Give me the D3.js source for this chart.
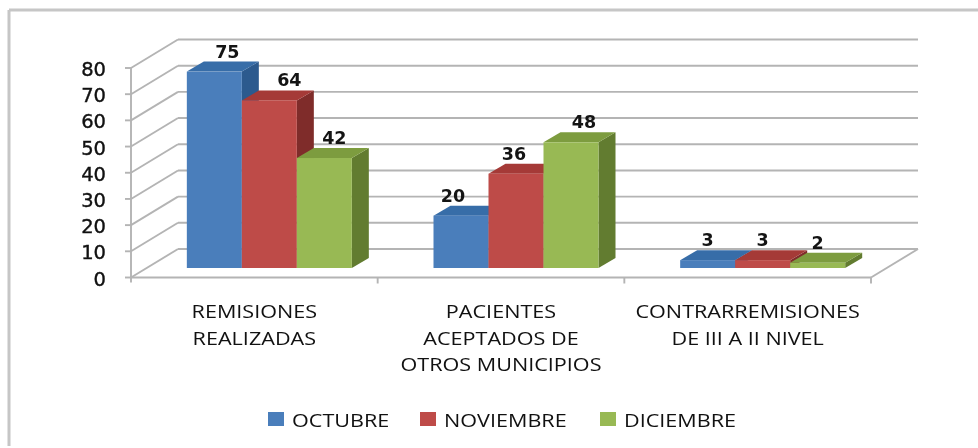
<!DOCTYPE html>
<html><head><meta charset="utf-8">
<script src="https://cdn.jsdelivr.net/npm/d3@7/dist/d3.min.js"></script>
<style>html,body{margin:0;padding:0;background:#fff;width:978px;height:448px;overflow:hidden}
svg{display:block;filter:blur(0.6px)}</style></head><body><svg id="c" width="978" height="448"></svg>
<script>
const categories=[["REMISIONES","REALIZADAS"],["PACIENTES","ACEPTADOS DE","OTROS MUNICIPIOS"],["CONTRARREMISIONES","DE III A II NIVEL"]];
const seriesNames=["OCTUBRE","NOVIEMBRE","DICIEMBRE"];
const octubre=[75,20,3];
const noviembre=[64,36,3];
const diciembre=[42,48,2];
const valueTicks=[0,10,20,30,40,50,60,70,80];
const frontColors=["#4a7ebb","#be4b48","#98b954"];
const topColors=["#376da8","#a53a37","#7d9c3f"];
const sideColors=["#2c5a8e","#7f2c2a","#627c30"];
const seriesValues=[octubre,noviembre,diciembre];
const labelNudge=[[13,-8,0],[20,-2,0],[10,13,0]];

const svg=d3.select("#c");
const y=d3.scaleLinear().domain([0,80]).range([277.5,68]);
const x0=d3.scaleBand().domain(d3.range(categories.length)).range([131,871]);
const x1=d3.scaleBand().domain(d3.range(seriesNames.length)).range([0,165]);
const wallDx=47,wallDy=-28.5,barOffX=15,barOffY=-9.5,barDepX=17,barDepY=-10;
const grid="#b4b4b4",stretch=1.2;

function wide(x,yy,t,anchor,size){
  return svg.append("text").attr("transform",`translate(${x},${yy}) scale(${stretch},1)`)
    .attr("text-anchor",anchor).attr("font-family","Open Sans").attr("font-size",size)
    .attr("font-weight",500).attr("fill","#111").text(t);
}

// chart frame: only the top and left edges show
const frame=svg.append("g").attr("stroke","#c6c6c6").attr("stroke-width",3).attr("fill","none");
frame.append("line").attr("x1",9).attr("x2",978).attr("y1",10).attr("y2",10);
frame.append("line").attr("x1",9).attr("x2",9).attr("y1",10).attr("y2",446);

// back wall gridlines and left wall diagonals
const gl=svg.append("g").attr("stroke",grid).attr("stroke-width",1.9).attr("fill","none");
valueTicks.forEach(v=>{
  gl.append("line").attr("x1",x0.range()[0]+wallDx).attr("x2",x0.range()[1]+wallDx)
    .attr("y1",y(v)+wallDy).attr("y2",y(v)+wallDy);
  gl.append("line").attr("x1",x0.range()[0]).attr("x2",x0.range()[0]+wallDx)
    .attr("y1",y(v)).attr("y2",y(v)+wallDy);
  gl.append("line").attr("x1",x0.range()[0]-6).attr("x2",x0.range()[0])
    .attr("y1",y(v)).attr("y2",y(v));
});
gl.append("line").attr("x1",131).attr("x2",131).attr("y1",y(80)).attr("y2",y(0)+5);
gl.append("line").attr("x1",131).attr("x2",871).attr("y1",y(0)).attr("y2",y(0));
gl.append("line").attr("x1",871).attr("x2",871+wallDx).attr("y1",y(0)).attr("y2",y(0)+wallDy);
d3.range(1,4).forEach(i=>{
  const px=x0.range()[0]+x0.step()*i;
  gl.append("line").attr("x1",px).attr("x2",px).attr("y1",y(0)).attr("y2",y(0)+6);
});

// bars
const bars=svg.append("g");
categories.forEach((c,ci)=>{
  const gx=x0(ci)+(x0.step()-165)/2+barOffX;
  seriesNames.forEach((s,si)=>{
    const v=seriesValues[si][ci];
    const l=gx+x1(si),r=l+x1.bandwidth();
    const b=y(0)+barOffY,t=y(v)+barOffY;
    const g=bars.append("g");
    g.append("path").attr("fill",sideColors[si]).attr("d",d3.line()([[r,b],[r,t],[r+barDepX,t+barDepY],[r+barDepX,b+barDepY]]));
    g.append("path").attr("fill",topColors[si]).attr("d",d3.line()([[l,t],[r,t],[r+barDepX,t+barDepY],[l+barDepX,t+barDepY]]));
    g.append("rect").attr("x",l).attr("y",t).attr("width",r-l).attr("height",b-t).attr("fill",frontColors[si]);
  });
});
categories.forEach((c,ci)=>{
  const gx=x0(ci)+(x0.step()-165)/2+barOffX;
  seriesNames.forEach((s,si)=>{
    const v=seriesValues[si][ci];
    svg.append("text").attr("x",gx+x1(si)+x1.bandwidth()/2+labelNudge[si][ci])
      .attr("y",y(v)+barOffY+barDepY-4)
      .attr("text-anchor","middle").attr("font-family","DejaVu Sans").attr("font-weight","bold")
      .attr("font-size",17.5).attr("fill","#141414").text(v);
  });
});

// value labels
svg.append("g").selectAll("text").data(valueTicks).join("text")
  .attr("x",106).attr("y",d=>y(d)+8).attr("text-anchor","end")
  .attr("font-family","DejaVu Sans").attr("font-size",19.5).attr("font-weight",400)
  .attr("stroke","#111").attr("stroke-width",0.4)
  .attr("fill","#111").text(d=>d);

// category labels
categories.forEach((lines,i)=>{
  const cx=x0(i)+x0.step()/2;
  lines.forEach((t,j)=>wide(cx,318+j*26.5,t,"middle",18));
});

// legend
const legendX=[268,420,600];
seriesNames.forEach((s,i)=>{
  svg.append("rect").attr("x",legendX[i]).attr("y",412).attr("width",16).attr("height",14).attr("fill",frontColors[i]);
  wide(legendX[i]+24,426.5,s,"start",18);
});
</script></body></html>
